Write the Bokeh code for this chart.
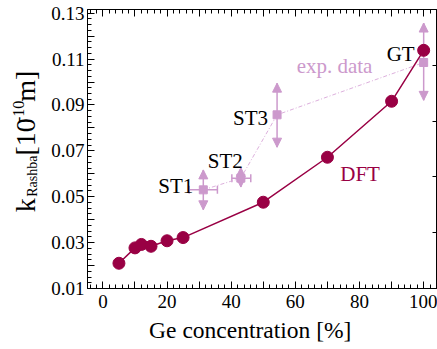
import numpy as np
from bokeh.plotting import figure
from bokeh.layouts import row
from bokeh.models import (ColumnDataSource, Whisker, NormalHead, TeeHead, Label, LinearAxis,
                          FixedTicker, CustomJSTickFormatter, Range1d)
from bokeh.embed import file_html
from bokeh.resources import INLINE
from math import pi

# ---------------- data ----------------
dft_x = [5, 10, 12, 15, 20, 25, 50, 70, 90, 100]
dft_y = [0.0210, 0.0277, 0.0292, 0.0284, 0.0308, 0.0322, 0.0476, 0.0672, 0.0916, 0.1138]

exp_names = ["ST1", "ST2", "ST3", "GT"]
exp_x = [31.3, 43.0, 54.3, 100.0]
exp_y = [0.0530, 0.0581, 0.0857, 0.1085]
exp_y_lo = [0.0443, 0.0542, 0.0716, 0.0920]
exp_y_hi = [0.0617, 0.0627, 0.0995, 0.1257]
exp_x_lo = [26.9, 40.2]
exp_x_hi = [35.7, 46.1]

x_major = [0, 10, 20, 30, 40, 50, 60, 70, 80, 90, 100]
x_minor = list(range(-4, 105, 2))
y_major = [0.01, 0.02, 0.03, 0.04, 0.05, 0.06, 0.07, 0.08, 0.09, 0.10, 0.11, 0.12, 0.13]
y_minor = [round(0.01 + 0.0025 * i, 4) for i in range(0, 49)]

FONT = "Liberation Serif"
DFT_C = "#990044"
EXP_C = "#CC99CC"
EXP_LINE_C = "#DDB0DD"

W_TITLE = 48
H = 349

p = figure(width=437 - W_TITLE, height=H, x_range=(-4.8, 104), y_range=(0.01, 0.1316),
           output_backend="svg", toolbar_location=None,
           min_border_left=38, min_border_right=1, min_border_top=9, min_border_bottom=61)
p.xgrid.visible = False
p.ygrid.visible = False
p.outline_line_color = "black"
p.outline_line_width = 1
p.background_fill_color = "white"
p.border_fill_color = "white"

x_ticker = FixedTicker(ticks=x_major, minor_ticks=x_minor)
y_ticker = FixedTicker(ticks=y_major, minor_ticks=y_minor)
x_fmt = CustomJSTickFormatter(code="return (Math.round(tick) % 20 == 0) ? tick.toFixed(0) : '';")
y_fmt = CustomJSTickFormatter(code="const k = Math.round(tick*100); return (k % 2 == 1) ? tick.toFixed(2) : '';")
blank = CustomJSTickFormatter(code="return '';")


def style(ax, labels=True, maj=7, mino=4):
    ax.axis_line_color = "black"
    ax.axis_line_width = 1
    ax.major_tick_in = maj
    ax.major_tick_out = 0
    ax.minor_tick_in = mino
    ax.minor_tick_out = 0
    ax.major_tick_line_color = "black"
    ax.minor_tick_line_color = "black"
    ax.major_label_text_font = FONT
    ax.major_label_text_color = "black"
    if labels:
        ax.major_label_text_font_size = "19px"
    else:
        ax.major_label_text_font_size = "1px"
        ax.major_label_standoff = 0


xa = p.xaxis[0]
xa.ticker = x_ticker
xa.formatter = x_fmt
style(xa)
xa.major_label_standoff = 6
xa.axis_label = "Ge concentration [%]" + "\u00a0" * 4
xa.axis_label_text_font = FONT
xa.axis_label_text_font_size = "23.5px"
xa.axis_label_text_font_style = "normal"
xa.axis_label_text_color = "black"
xa.axis_label_standoff = 6

ya = p.yaxis[0]
ya.ticker = y_ticker
ya.formatter = y_fmt
style(ya)
ya.major_label_standoff = 3

top = LinearAxis(ticker=x_ticker, formatter=blank)
style(top, labels=False)
p.add_layout(top, "above")

p.extra_y_ranges = {"r": Range1d(0, 5)}
right = LinearAxis(y_range_name="r", ticker=FixedTicker(ticks=[1, 2, 3, 4]), formatter=blank)
style(right, labels=False, maj=4, mino=0)
p.add_layout(right, "right")

# ---------------- experimental data ----------------
src_exp = ColumnDataSource(dict(x=exp_x, y=exp_y, lo=exp_y_lo, hi=exp_y_hi))
p.line("x", "y", source=src_exp, line_color=EXP_LINE_C, line_width=1, line_dash="4 2 1 2")

wy = Whisker(base="x", lower="lo", upper="hi", source=src_exp, dimension="height",
             line_color=EXP_C, line_width=1.5,
             upper_head=NormalHead(size=9, fill_color=EXP_C, line_color=EXP_C, line_width=1),
             lower_head=NormalHead(size=9, fill_color=EXP_C, line_color=EXP_C, line_width=1))
p.add_layout(wy)

src_xe = ColumnDataSource(dict(y=exp_y[:2], lo=exp_x_lo, hi=exp_x_hi))
wx = Whisker(base="y", lower="lo", upper="hi", source=src_xe, dimension="width",
             line_color=EXP_C, line_width=1.5,
             upper_head=TeeHead(size=8, line_color=EXP_C, line_width=1.5),
             lower_head=TeeHead(size=8, line_color=EXP_C, line_width=1.5))
p.add_layout(wx)

p.scatter("x", "y", source=src_exp, marker="square", size=8, fill_color=EXP_C, line_color=EXP_C)

# ---------------- DFT ----------------
src_dft = ColumnDataSource(dict(x=dft_x, y=dft_y))
p.line("x", "y", source=src_dft, line_color=DFT_C, line_width=1.5)
p.scatter("x", "y", source=src_dft, marker="circle", size=12, fill_color=DFT_C, line_color=DFT_C)

# ---------------- text labels ----------------
offsets = {"ST1": (-10, 4), "ST2": (2, 17), "ST3": (-9, -3), "GT": (-9, 9)}
for name, xx, yy in zip(exp_names, exp_x, exp_y):
    dx, dy = offsets[name]
    p.add_layout(Label(x=xx, y=yy, x_offset=dx, y_offset=dy, text=name, text_font=FONT,
                       text_font_size="21px", text_color="black", text_align="right",
                       text_baseline="alphabetic"))

p.add_layout(Label(x=60.4, y=0.1068, text="exp. data", text_font=FONT, text_font_size="21px",
                   text_color=EXP_C, text_align="left", text_baseline="alphabetic"))
p.add_layout(Label(x=74.0, y=0.0601, text="DFT", text_font=FONT, text_font_size="21px",
                   text_color=DFT_C, text_align="left", text_baseline="alphabetic"))

# ---------------- y-axis title (separate narrow panel without axes) ----------------
t = figure(width=W_TITLE, height=H, x_range=Range1d(0, W_TITLE), y_range=Range1d(0, H),
           output_backend="svg", toolbar_location=None,
           x_axis_location=None, y_axis_location=None,
           min_border_left=0, min_border_right=0, min_border_top=0, min_border_bottom=0)
t.grid.visible = False
t.outline_line_color = None
t.background_fill_color = "white"
t.border_fill_color = "white"

# (text, centre x, centre y from top, font size) -- each piece centred, so rotation is exact
ytitle = [
    ("k", 24.5, 245, "28px"),
    ("Rashba", 32, 208.5, "14px"),
    ("[10", 24.5, 159.4, "28px"),
    ("-10", 17.5, 127.5, "16px"),
    ("m]", 24.5, 96, "28px"),
]
for txt, cx, cy, fs in ytitle:
    t.add_layout(Label(x=cx, y=H - cy, angle=pi / 2, text=txt, text_font=FONT,
                       text_font_size=fs, text_color="black",
                       text_align="center", text_baseline="middle"))

open("out.html", "w").write(file_html(row(t, p), INLINE))
